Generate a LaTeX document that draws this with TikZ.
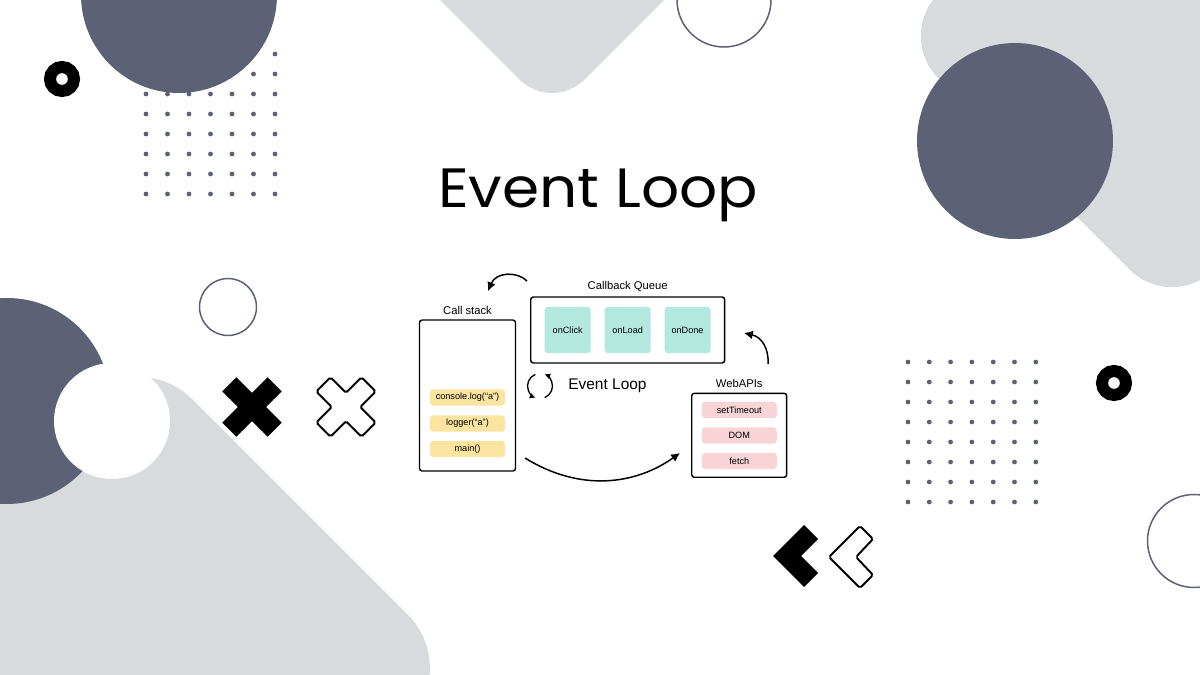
\documentclass[tikz,border=0pt]{standalone}
\usepackage{fontspec}
\setmainfont{Liberation Sans}
\newfontfamily\titlefont{Poppins}
\usetikzlibrary{positioning,arrows.meta}

\definecolor{slate}{RGB}{92,97,117}
\definecolor{mist}{RGB}{216,219,222}
\definecolor{stackyellow}{RGB}{251,228,160}
\definecolor{queuemint}{RGB}{179,232,223}
\definecolor{apipink}{RGB}{248,212,214}

\begin{document}
\begin{tikzpicture}[x=0.02cm,y=-0.02cm,
    panel/.style={draw=black,line width=0.8pt,rounded corners=1.5pt,fill=white,inner sep=0pt},
    chip/.style={rounded corners=2pt,minimum width=1.5cm,minimum height=0.33cm,inner sep=0pt,
                 font=\fontsize{5.2}{6}\selectfont},
    caption/.style={font=\fontsize{6.4}{7}\selectfont,inner sep=1pt},
    flow/.style={-{Latex[length=5pt,width=5pt]},line width=0.85pt},
    ring/.style={draw=slate,line width=0.85pt}]

\useasboundingbox (0,0) rectangle (1200,675);
\fill[white] (0,0) rectangle (1200,675);

\begin{scope}
  \clip (0,0) rectangle (1200,675);

  % light grey blocks
  \fill[mist,rounded corners=0.92cm] (380,-60) -- (552,112) -- (724,-60) -- cycle;
  \fill[mist,rounded corners=1.2cm] (896,36) -- (1172,312) -- (1572,-88) -- (1296,-364) -- cycle;
  \fill[mist,rounded corners=1.5cm] (139,346) -- (461,668) -- (61,1068) -- (-261,746) -- cycle;

  % dot grids
  \foreach \i in {0,...,6}
    \foreach \j in {0,...,7} {
      \fill[slate] (146+21.5*\i,54+20*\j) circle (0.048cm);
      \fill[slate] (908+21.3*\i,362+20*\j) circle (0.048cm);
    }

  % dark discs
  \fill[slate] (179,-5) circle (1.96cm);
  \fill[slate] (1015,141) circle (1.96cm);
  \fill[slate] (7,401) circle (2.06cm);
  \fill[white] (112,421) circle (1.16cm);

  % outlined circles
  \draw[ring] (724,0) circle (0.94cm);
  \draw[ring] (228,307) circle (0.57cm);
  \draw[ring] (1194,541) circle (0.93cm);

  % black rings
  \draw[line width=0.24cm] (62,79) circle (0.24cm);
  \draw[line width=0.24cm] (1114,383) circle (0.24cm);
\end{scope}

% crosses
\begin{scope}[shift={(252,407)},rotate=45]
  \fill (10,32) -- (10,10) -- (32,10) -- (32,-10) -- (10,-10) -- (10,-32) -- (-10,-32)
    -- (-10,-10) -- (-32,-10) -- (-32,10) -- (-10,10) -- (-10,32) -- cycle;
\end{scope}
\begin{scope}[shift={(346,407)},rotate=45]
  \draw[line width=1.1pt,rounded corners=1pt] (10,32) -- (10,10) -- (32,10) -- (32,-10)
    -- (10,-10) -- (10,-32) -- (-10,-32) -- (-10,-10) -- (-32,-10) -- (-32,10)
    -- (-10,10) -- (-10,32) -- cycle;
\end{scope}

% chevrons
\fill (773,556) -- (804,525) -- (818,539) -- (801,556) -- (818,573) -- (804,587) -- cycle;
\draw[line width=1.1pt,rounded corners=1pt] (829,557) -- (860,526) -- (873,539) -- (856,557)
  -- (873,575) -- (860,588) -- cycle;

% title
\node[font=\titlefont\fontsize{31.5}{36}\selectfont,anchor=base,inner sep=0pt] (title) at (598,208)
  {\scalebox{1.08}[1]{Event Loop}};

% call stack
\node[panel,minimum width=1.92cm,minimum height=3.02cm] (callstack) at (467.5,395.5) {};
\node[caption,above=0.06cm of callstack] (stacktitle) {Call stack};
\node[chip,fill=stackyellow] (consolelog) at (467.5,397.5) {console.log(“a”)};
\node[chip,fill=stackyellow] (logger) at (467.5,423.5) {logger(“a”)};
\node[chip,fill=stackyellow] (mainfn) at (467.5,449) {main()};

% callback queue
\node[panel,minimum width=3.88cm,minimum height=1.32cm] (queue) at (627.7,330) {};
\node[caption,above=0.06cm of queue] (queuetitle) {Callback Queue};
\begin{scope}[every node/.style={chip,fill=queuemint,minimum width=0.92cm,minimum height=0.93cm}]
  \node (onclick) at (567.7,330) {onClick};
  \node (onload) at (627.7,330) {onLoad};
  \node (ondone) at (687.5,330) {onDone};
\end{scope}

% web apis
\node[panel,minimum width=1.9cm,minimum height=1.68cm] (webapis) at (739.2,435.3) {};
\node[caption,above=0.06cm of webapis] (apititle) {WebAPIs};
\node[chip,fill=apipink] (timeout) at (739.3,410) {setTimeout};
\node[chip,fill=apipink] (dom) at (739.3,435.5) {DOM};
\node[chip,fill=apipink] (fetch) at (739.3,461) {fetch};

% event loop
\coordinate (loopicon) at (540,386);
\draw[line width=0.75pt,-{Latex[length=3.4pt,width=3.4pt]}] (loopicon) ++(112:0.25cm)
  arc[start angle=112,end angle=250,radius=0.25cm];
\draw[line width=0.75pt,-{Latex[length=3.4pt,width=3.4pt]}] (loopicon) ++(-68:0.25cm)
  arc[start angle=-68,end angle=70,radius=0.25cm];
\node[font=\fontsize{8.8}{10}\selectfont,anchor=west,inner sep=0pt] (looplabel) at (568,386) {Event Loop};

% arrows
\coordinate (stackout) at (525,458);
\coordinate (apiin) at (680,453);
\coordinate (queueout) at (527,281);
\coordinate (stackin) at (488,291);
\coordinate (apiout) at (768,364);
\coordinate (queuein) at (744,333);
\draw[flow] (stackout) .. controls (580,492) and (635,485) .. (apiin);
\draw[flow] (queueout) .. controls (517,271) and (496,272) .. (stackin);
\draw[flow] (apiout) .. controls (769,349) and (762,337) .. (queuein);
\end{tikzpicture}
\end{document}
